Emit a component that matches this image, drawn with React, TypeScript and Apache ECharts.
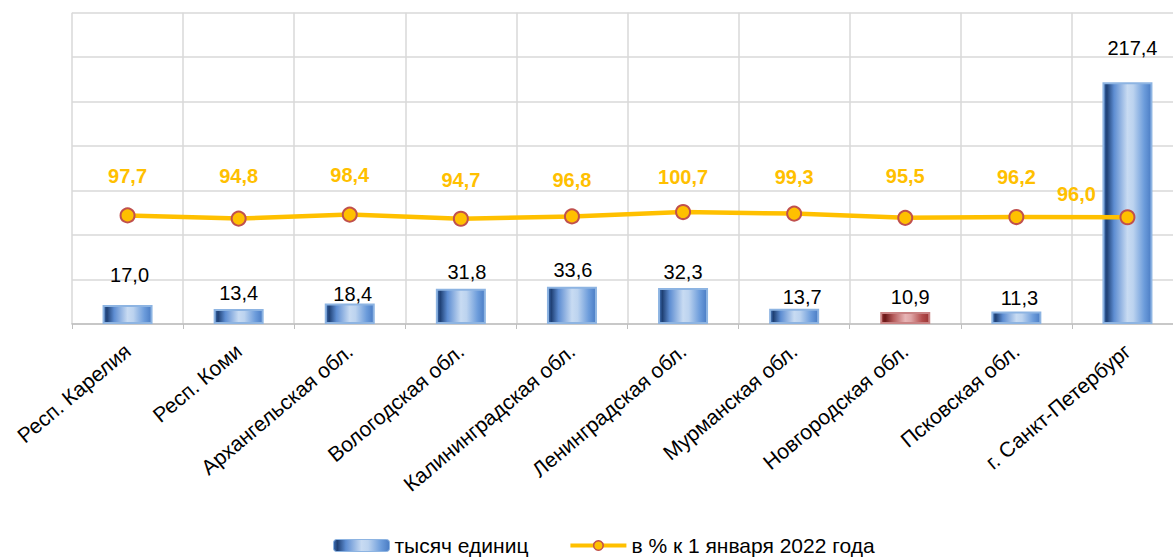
import React, { useEffect, useRef } from "react";
import * as echarts from "echarts";

const categories = [
  "Респ. Карелия",
  "Респ. Коми",
  "Архангельская обл.",
  "Вологодская обл.",
  "Калининградская обл.",
  "Ленинградская обл.",
  "Мурманская обл.",
  "Новгородская обл.",
  "Псковская обл.",
  "г. Санкт-Петербург",
];
const units = [17.0, 13.4, 18.4, 31.8, 33.6, 32.3, 13.7, 10.9, 11.3, 217.4];
const percent = [97.7, 94.8, 98.4, 94.7, 96.8, 100.7, 99.3, 95.5, 96.2, 96.0];
const highlightIndex = 7;

// label placement (layout only)
const barLabelDist = [20, 6, 0, 7, 6.6, 6.4, 1.5, 4.6, 3, 24];
const barLabelDx = [2, 0, 3, 6, 1, 0, 8, 5, 3, 5];
const lineLabelDist = [21.7, 24.6, 21.6, 21, 18.4, 17, 18.3, 24, 21.7, 5.3];
const lineLabelDx = [0, 0, 0, 0, 0, 0, 0, 0, 0, -51];

const FONT = "'Liberation Sans', Arial, sans-serif";
const fmt = (v: number) => v.toFixed(1).replace(".", ",");

const blueGrad = {
  type: "linear",
  x: 0,
  y: 0,
  x2: 1,
  y2: 0,
  colorStops: [
    { offset: 0, color: "#3c6db3" },
    { offset: 0.07, color: "#1f4074" },
    { offset: 0.22, color: "#5d8dd2" },
    { offset: 0.5, color: "#c8dbf2" },
    { offset: 0.62, color: "#bcd3ef" },
    { offset: 0.85, color: "#6c9cdb" },
    { offset: 1, color: "#4a7cc4" },
  ],
};
const redGrad = {
  type: "linear",
  x: 0,
  y: 0,
  x2: 1,
  y2: 0,
  colorStops: [
    { offset: 0, color: "#8e2c2c" },
    { offset: 0.08, color: "#6a1717" },
    { offset: 0.25, color: "#b45a5a" },
    { offset: 0.5, color: "#e8b5b6" },
    { offset: 0.62, color: "#dfa5a6" },
    { offset: 0.85, color: "#b24c4c" },
    { offset: 1, color: "#9a3434" },
  ],
};

export default function App() {
  const ref = useRef<HTMLDivElement>(null);
  useEffect(() => {
    if (!ref.current) return;
    const chart = echarts.init(ref.current, undefined, { renderer: "svg" });
    const barData = units.map((v, i) => ({
      value: v,
      itemStyle:
        i === highlightIndex
          ? { color: redGrad, borderColor: "#c98283", borderWidth: 2 }
          : { color: blueGrad, borderColor: "#8db4e2", borderWidth: 2 },
      label: { distance: barLabelDist[i], offset: [barLabelDx[i], 0] },
    }));
    const lineData = percent.map((v, i) => ({
      value: v,
      label: { distance: lineLabelDist[i], offset: [lineLabelDx[i], 0] },
    }));
    chart.setOption({
      animation: false,
      textStyle: { fontFamily: FONT },
      grid: { left: 72, top: 12.7, width: 1111, height: 311.3 },
      legend: {
        left: 333,
        top: 535,
        padding: 0,
        itemGap: 40,
        itemWidth: 56,
        itemHeight: 12,
        textStyle: { fontFamily: FONT, fontSize: 21, color: "#000" },
        data: [
          {
            name: "тысяч единиц",
            itemStyle: { color: blueGrad, borderColor: "#8db4e2", borderWidth: 1 },
          },
          {
            name: "в % к 1 января 2022 года",
            lineStyle: { color: "#FFC000", width: 4 },
            itemStyle: { color: "#FFC000", borderColor: "#C0504D", borderWidth: 1.5 },
          },
        ],
      },
      xAxis: {
        type: "category",
        data: categories,
        boundaryGap: true,
        axisLine: { show: true, lineStyle: { color: "#bfbfbf", width: 1.5 } },
        axisTick: { show: true, length: 5, lineStyle: { color: "#bfbfbf", width: 1 } },
        splitLine: { show: true, lineStyle: { color: "#d9d9d9", width: 1.5 } },
        axisLabel: {
          rotate: 40,
          margin: 24,
          interval: 0,
          fontFamily: FONT,
          fontSize: 21,
          color: "#000",
        },
      },
      yAxis: {
        type: "value",
        min: 0,
        max: 280,
        interval: 40,
        axisLabel: { show: false },
        axisLine: { show: false },
        axisTick: { show: false },
        splitLine: { show: true, lineStyle: { color: "#d9d9d9", width: 1.5 } },
      },
      series: [
        {
          name: "тысяч единиц",
          type: "bar",
          barWidth: 50,
          data: barData,
          itemStyle: { color: blueGrad },
          label: {
            show: true,
            position: "top",
            fontFamily: FONT,
            fontSize: 20,
            color: "#000",
            formatter: (p: any) => fmt(p.value),
          },
          z: 2,
        },
        {
          name: "в % к 1 января 2022 года",
          type: "line",
          data: lineData,
          symbol: "circle",
          symbolSize: 14,
          lineStyle: { color: "#FFC000", width: 4.5 },
          itemStyle: { color: "#FFC000", borderColor: "#C0504D", borderWidth: 2 },
          label: {
            show: true,
            position: "top",
            fontFamily: FONT,
            fontSize: 20,
            fontWeight: "bold",
            color: "#FFC000",
            formatter: (p: any) => fmt(p.value),
          },
          z: 5,
        },
      ],
    });
    return () => chart.dispose();
  }, []);
  return (
    <div
      style={{
        position: "fixed",
        left: 0,
        top: 0,
        width: 1173,
        height: 558,
        overflow: "hidden",
        background: "#fff",
      }}
    >
      <div ref={ref} style={{ width: 1200, height: 558 }} />
    </div>
  );
}
